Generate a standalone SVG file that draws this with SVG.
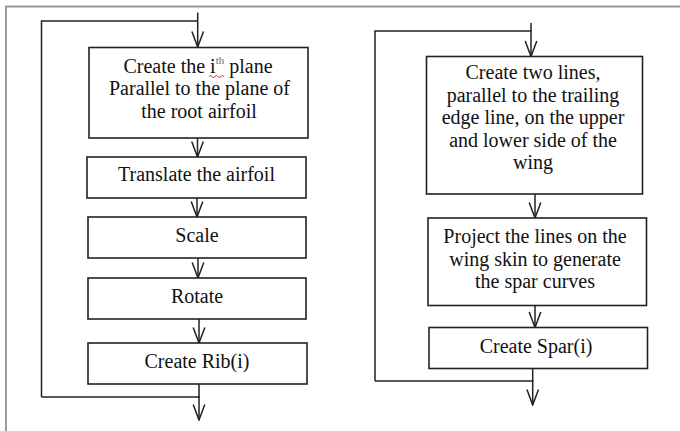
<svg xmlns="http://www.w3.org/2000/svg" width="680" height="431" viewBox="0 0 680 431">
<style>
.box{fill:#fff;stroke:#222;stroke-width:1.6}
.ln{fill:none;stroke:#222;stroke-width:1.5}
.t{font-family:"Liberation Serif","Times New Roman",serif;font-size:20px;fill:#111;text-anchor:middle}
</style>
<defs>
<marker id="ah" viewBox="-17 -7 18 14" refX="0" refY="0" markerWidth="18" markerHeight="14" markerUnits="userSpaceOnUse" orient="auto">
<path d="M-15.5,-5.8 L0,0 L-15.5,5.8" fill="none" stroke="#222" stroke-width="1.5"/>
</marker>
</defs>
<rect width="680" height="431" fill="#fff"/>
<path d="M6,431 V6.5 H680" fill="none" stroke="#999" stroke-width="2"/>

<g id="connectors">
<path class="ln" d="M41.5,397 V21 H197.7"/>
<path class="ln" d="M197.7,12.5 V47" marker-end="url(#ah)"/>
<path class="ln" d="M197.5,138 V157" marker-end="url(#ah)"/>
<path class="ln" d="M197,198 V217" marker-end="url(#ah)"/>
<path class="ln" d="M198,258 V278" marker-end="url(#ah)"/>
<path class="ln" d="M199,319 V343" marker-end="url(#ah)"/>
<path class="ln" d="M199,384 V397 H41.5"/>
<path class="ln" d="M199,396 V420" marker-end="url(#ah)"/>

<path class="ln" d="M375,381 V31 H531"/>
<path class="ln" d="M531,23 V56.5" marker-end="url(#ah)"/>
<path class="ln" d="M535,194 V218" marker-end="url(#ah)"/>
<path class="ln" d="M535,305.5 V327.5" marker-end="url(#ah)"/>
<path class="ln" d="M532.7,368.5 V381 H375"/>
<path class="ln" d="M532.7,380 V405" marker-end="url(#ah)"/>
</g>

<g id="n-create-plane">
<rect class="box" x="89" y="47.5" width="219" height="90.5"/>
<text class="t" x="198" y="73">Create the i<tspan font-size="11" dy="-9" fill="#666">th</tspan><tspan dy="9"> plane</tspan></text>
<path d="M209,76.5 q1.5,-2 3,0 t3,0 t3,0 t3,0 t3,0" fill="none" stroke="#e02020" stroke-width="1"/>
<text class="t" x="199.5" y="95">Parallel to the plane of</text>
<text class="t" x="199" y="117.5">the root airfoil</text>
</g>
<g id="n-translate">
<rect class="box" x="87" y="157" width="219" height="41"/>
<text class="t" x="196.5" y="181">Translate the airfoil</text>
</g>
<g id="n-scale">
<rect class="box" x="88" y="217" width="218" height="41"/>
<text class="t" x="197" y="241.5">Scale</text>
</g>
<g id="n-rotate">
<rect class="box" x="88" y="278" width="218" height="41"/>
<text class="t" x="197" y="302.5">Rotate</text>
</g>
<g id="n-rib">
<rect class="box" x="88" y="343" width="219" height="41"/>
<text class="t" x="197" y="367.5">Create Rib(i)</text>
</g>

<g id="n-two-lines">
<rect class="box" x="426.5" y="56.5" width="216" height="137.5"/>
<text class="t" x="533" y="79">Create two lines,</text>
<text class="t" x="533" y="101.5">parallel to the trailing</text>
<text class="t" x="533" y="124">edge line, on the upper</text>
<text class="t" x="533" y="146.5">and lower side of the</text>
<text class="t" x="533" y="169">wing</text>
</g>
<g id="n-project">
<rect class="box" x="428" y="218" width="218.5" height="87.5"/>
<text class="t" x="535" y="243">Project the lines on the</text>
<text class="t" x="535" y="265.5">wing skin to generate</text>
<text class="t" x="535" y="288">the spar curves</text>
</g>
<g id="n-spar">
<rect class="box" x="429" y="327.5" width="218.5" height="41"/>
<text class="t" x="536" y="352.5">Create Spar(i)</text>
</g>
</svg>
